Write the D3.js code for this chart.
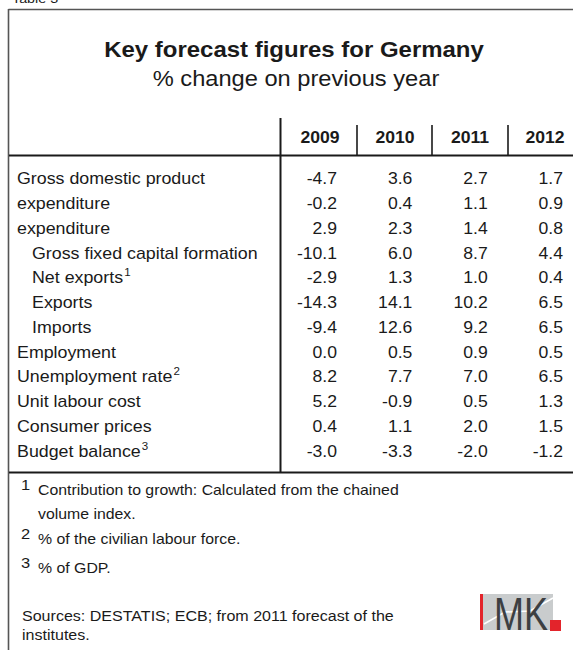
<!DOCTYPE html>
<html><head><meta charset="utf-8">
<script src="https://cdn.jsdelivr.net/npm/d3@7"></script>
<style>
html,body{margin:0;padding:0;background:#fff;}
svg{display:block;font-family:"Liberation Sans",Arial,sans-serif;}
</style></head>
<body>
<script>
const years = ["2009","2010","2011","2012"];
const labels = ["Gross domestic product","expenditure","expenditure","Gross fixed capital formation","Net exports","Exports","Imports","Employment","Unemployment rate","Unit labour cost","Consumer prices","Budget balance"];
const indented = [false,false,false,true,true,true,true,false,false,false,false,false];
const superscripts = ["","","","","1","","","","2","","","3"];
const v2009 = ["-4.7","-0.2","2.9","-10.1","-2.9","-14.3","-9.4","0.0","8.2","5.2","0.4","-3.0"];
const v2010 = ["3.6","0.4","2.3","6.0","1.3","14.1","12.6","0.5","7.7","-0.9","1.1","-3.3"];
const v2011 = ["2.7","1.1","1.4","8.7","1.0","10.2","9.2","0.9","7.0","0.5","2.0","-2.0"];
const v2012 = ["1.7","0.9","0.8","4.4","0.4","6.5","6.5","0.5","6.5","1.3","1.5","-1.2"];
const footnoteMarks = ["1","","2","3"];
const footnoteTexts = ["Contribution to growth: Calculated from the chained","volume index.","% of the civilian labour force.","% of GDP."];
const sources = ["Sources: DESTATIS; ECB; from 2011 forecast of the","institutes."];

const W=573,H=650;
const SX=1.1;
const svg=d3.select("body").append("svg").attr("width",W).attr("height",H);
const ink="#1a1a1a", frame="#555";
// text placed at (x,y) and stretched horizontally like the reference typeface
function T(parent,x,y){return parent.append("text").attr("transform",`translate(${x},${y}) scale(${SX},1)`).attr("fill",ink);}

// cut-off table label (as in the reference)
T(svg,12,3).attr("font-size",13).text("Table 3");
// frame
svg.append("line").attr("x1",8.5).attr("x2",W).attr("y1",9.5).attr("y2",9.5).attr("stroke",frame).attr("stroke-width",1.6);
svg.append("line").attr("x1",8.5).attr("x2",8.5).attr("y1",9).attr("y2",H).attr("stroke",frame).attr("stroke-width",1.6);

T(svg,294,57).attr("text-anchor","middle").attr("font-size",21.8).attr("font-weight","bold").text("Key forecast figures for Germany");
T(svg,296,86).attr("text-anchor","middle").attr("font-size",21.5).text("% change on previous year");

// columns
const colRight = d3.scalePoint().domain(years).range([337,563]);
const colCenter = d3.scalePoint().domain(years).range([320,545]);
const y = d3.scaleBand().domain(d3.range(labels.length)).range([166,463]);

// header
years.forEach(yr=>{
  T(svg,colCenter(yr),143).attr("text-anchor","middle").attr("font-size",16).attr("font-weight","bold").text(yr);
});
const seps=[357,432,508];
svg.selectAll("line.sep").data(seps).join("line").attr("class","sep")
  .attr("x1",d=>d).attr("x2",d=>d).attr("y1",125).attr("y2",155).attr("stroke",ink).attr("stroke-width",1.6);
svg.append("line").attr("x1",280.5).attr("x2",280.5).attr("y1",118).attr("y2",473).attr("stroke",ink).attr("stroke-width",2);
svg.append("line").attr("x1",9).attr("x2",W).attr("y1",155.5).attr("y2",155.5).attr("stroke",ink).attr("stroke-width",2);
svg.append("line").attr("x1",9).attr("x2",W).attr("y1",472.5).attr("y2",472.5).attr("stroke",ink).attr("stroke-width",2);

// rows
const rows = labels.map((l,i)=>({l,i,ind:indented[i],sup:superscripts[i],vals:[v2009[i],v2010[i],v2011[i],v2012[i]]}));
rows.forEach(d=>{
  const yy = y(d.i)+y.bandwidth()/2+6;
  const t = T(svg,d.ind?32:17,yy).attr("font-size",16.2).text(d.l);
  if(d.sup) t.append("tspan").attr("dy",-7).attr("dx",1).attr("font-size",10.5).text(d.sup);
  years.forEach((yr,k)=>{
    T(svg,colRight(yr),yy).attr("text-anchor","end").attr("font-size",16).text(d.vals[k]);
  });
});

// footnotes
const fy=[495,519,544,573];
footnoteTexts.forEach((t,i)=>{
  if(footnoteMarks[i]) T(svg,21,fy[i]-5).attr("font-size",15).text(footnoteMarks[i]);
  T(svg,38,fy[i]).attr("font-size",14.4).text(t);
});
sources.forEach((s,i)=>{
  T(svg,22,621+i*19).attr("font-size",14.6).text(s);
});

// IMK logo
const logo=svg.append("g");
logo.append("rect").attr("x",480).attr("y",594).attr("width",73).attr("height",36).attr("fill","#c9cccd");
logo.append("polyline").attr("points","484,624 505,612 530,611 553,598").attr("fill","none").attr("stroke","#fff").attr("stroke-width",1.5);
logo.append("rect").attr("x",480).attr("y",594).attr("width",3).attr("height",36).attr("fill","#e3242b");
logo.append("text").attr("x",521).attr("y",630).attr("text-anchor","middle").attr("font-size",46).attr("fill","#3c3f42").attr("textLength",54).attr("lengthAdjust","spacingAndGlyphs").text("MK");
logo.append("rect").attr("x",550).attr("y",620).attr("width",11).attr("height",11).attr("fill","#e3242b");
</script>
</body></html>
